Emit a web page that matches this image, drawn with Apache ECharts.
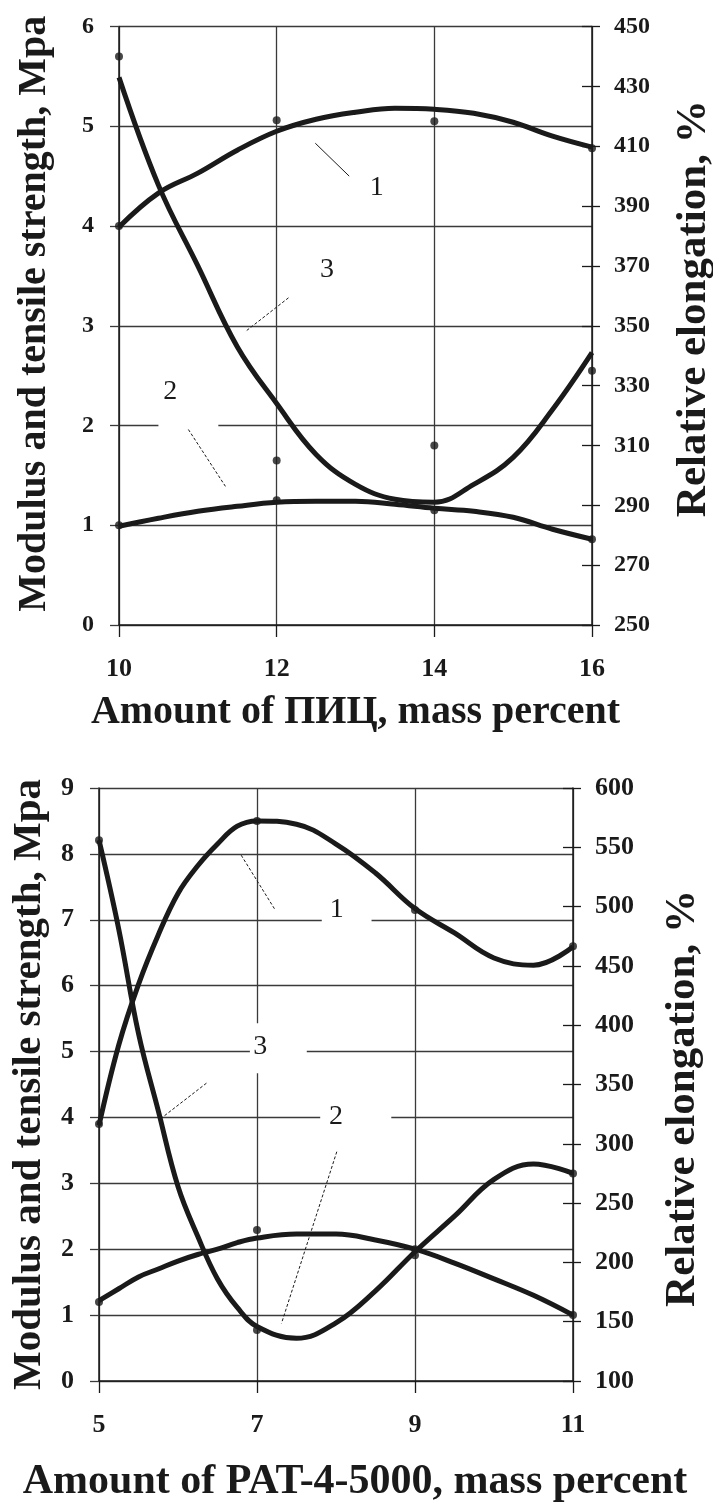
<!DOCTYPE html>
<html>
<head>
<meta charset="utf-8">
<script src="https://cdn.jsdelivr.net/npm/echarts@6/dist/echarts.min.js"></script>
<style>
html,body{margin:0;padding:0;background:#fff;}
#c{width:713px;height:1502px;}
</style>
</head>
<body>
<div id="c"></div>
<script>
// ---------- Top chart (ПИЦ) ----------
const topX = [10, 10.5, 11, 11.5, 12, 12.5, 13, 13.5, 14, 14.5, 15, 15.5, 16];
const topCurve1 = [3.99, 4.33, 4.53, 4.76, 4.95, 5.07, 5.14, 5.18, 5.17, 5.13, 5.04, 4.90, 4.79];   // tensile strength, MPa
const topCurve2 = [0.99, 1.07, 1.14, 1.19, 1.23, 1.24, 1.24, 1.21, 1.17, 1.14, 1.08, 0.96, 0.86];   // modulus, MPa
const topCurve3 = [433, 397, 370, 343, 324, 307, 297, 292, 291, 297, 306, 322, 341];               // elongation, %
const topPtX = [10, 12, 14, 16];
const topPts1 = [4.0, 5.06, 5.05, 4.78];
const topPts2 = [1.0, 1.25, 1.15, 0.86];
const topPts3 = [440, 305, 310, 335];
const topRightTicks = [250, 270, 290, 310, 330, 350, 370, 390, 410, 430, 450];

// ---------- Bottom chart (PAT-4-5000) ----------
const botX = [5, 5.25, 5.5, 5.75, 6, 6.25, 6.5, 6.75, 7, 7.5, 8, 8.5, 9, 9.5, 10, 10.5, 11];
const botCurve1 = [3.88, 5.1, 6.02, 6.77, 7.4, 7.82, 8.15, 8.42, 8.5, 8.45, 8.15, 7.71, 7.17, 6.8, 6.42, 6.31, 6.59];
const botCurve2 = [1.22, 1.4, 1.58, 1.7, 1.82, 1.92, 2.0, 2.1, 2.17, 2.23, 2.23, 2.14, 2.0, 1.79, 1.55, 1.3, 1.0];
const botCurve3 = [556, 481, 393, 328, 264, 222, 186, 162, 146, 136, 149, 176, 209, 239, 270, 283, 275];
const botPtX = [5, 7, 9, 11];
const botPts1 = [3.9, 8.5, 7.15, 6.6];
const botPts2 = [1.2, 2.29, 2.0, 1.0];
const botPts3 = [556, 143, 206, 275];

const FONT = 'Liberation Serif';
const INK = '#1a1a1a';
const GRIDC = '#3a3a3a';

function pairs(xs, ys) { return xs.map((x, i) => [x, ys[i]]); }

function xAxisCfg(gi, min, max, name, nameGap, nfs, pad) {
  return {
    gridIndex: gi, type: 'value', min: min, max: max, interval: 2,
    axisLine: { show: true, onZero: false, lineStyle: { color: INK, width: 1.5 } },
    axisTick: { show: true, inside: false, length: 12, lineStyle: { color: INK, width: 1.3 } },
    splitLine: { show: true, lineStyle: { color: GRIDC, width: 1.3 } },
    axisLabel: { fontFamily: FONT, fontWeight: 'bold', fontSize: 26, color: INK, margin: 31 },
    name: name, nameLocation: 'middle', nameGap: nameGap,
    nameTextStyle: { fontFamily: FONT, fontWeight: 'bold', fontSize: nfs, color: INK, padding: pad }
  };
}
function yLeftCfg(gi, min, max, fs, nameGap, nfs, pad) {
  return {
    gridIndex: gi, type: 'value', min: min, max: max, interval: 1, position: 'left',
    axisLine: { show: true, onZero: false, lineStyle: { color: INK, width: 1.5 } },
    axisTick: { show: true, inside: false, length: 9, lineStyle: { color: GRIDC, width: 1.3 } },
    splitLine: { show: true, lineStyle: { color: GRIDC, width: 1.3 } },
    axisLabel: { fontFamily: FONT, fontWeight: 'bold', fontSize: fs, color: INK, margin: 25 },
    name: 'Modulus and tensile strength, Mpa', nameLocation: 'middle', nameGap: nameGap, nameRotate: 90,
    nameTextStyle: { fontFamily: FONT, fontWeight: 'bold', fontSize: nfs, color: INK, padding: pad }
  };
}
function yRightCfg(gi, min, max, ticks, interval, fs, nameGap, pad) {
  const a = {
    gridIndex: gi, type: 'value', min: min, max: max, position: 'right',
    axisLine: { show: true, onZero: false, lineStyle: { color: INK, width: 1.5 } },
    axisTick: { show: true, inside: false, length: 8, lineStyle: { color: INK, width: 1.3 } },
    splitLine: { show: false },
    axisLabel: { fontFamily: FONT, fontWeight: 'bold', fontSize: fs, color: INK, margin: 22 },
    name: 'Relative elongation, %', nameLocation: 'middle', nameGap: nameGap, nameRotate: 90,
    nameTextStyle: { fontFamily: FONT, fontWeight: 'bold', fontSize: 43, color: INK, padding: pad }
  };
  if (ticks) { a.axisTick.customValues = ticks; a.axisLabel.customValues = ticks; }
  else { a.interval = interval; }
  return a;
}
function yRightInner(gi, min, max, ticks, interval) {
  const a = {
    gridIndex: gi, type: 'value', min: min, max: max, position: 'right',
    axisLine: { show: false }, splitLine: { show: false }, axisLabel: { show: false },
    axisTick: { show: true, inside: true, length: 10, lineStyle: { color: INK, width: 1.3 } }
  };
  if (ticks) { a.axisTick.customValues = ticks; a.axisLabel.customValues = ticks; }
  else { a.interval = interval; }
  return a;
}

function curve(xi, yi, data) {
  return { type: 'line', xAxisIndex: xi, yAxisIndex: yi, data: data, smooth: 0.4, showSymbol: false, symbol: 'none',
    lineStyle: { color: INK, width: 5 }, z: 2, silent: true };
}
function pts(xi, yi, data) {
  return { type: 'scatter', xAxisIndex: xi, yAxisIndex: yi, data: data, symbol: 'circle', symbolSize: 8,
    itemStyle: { color: INK }, z: 4, silent: true };
}
const lblStyle = { show: true, position: 'inside', formatter: '{b}', fontFamily: FONT, fontSize: 28, color: INK };
function leader(a, b, dashed) {
  return [{ coord: a, lineStyle: { type: dashed ? [3, 2] : 'solid', color: INK, width: 1 } }, { coord: b }];
}
function label(name, c) { return { name: name, coord: c }; }

const option = {
  animation: false,
  backgroundColor: '#fff',
  grid: [
    { left: 119, top: 26.5, width: 473, height: 598.5, outerBoundsMode: 'none', containLabel: false },
    { left: 99, top: 788, width: 474, height: 593, outerBoundsMode: 'none', containLabel: false }
  ],
  xAxis: [
    xAxisCfg(0, 10, 16, 'Amount of ПИЦ, mass percent', 68, 40, 0),
    xAxisCfg(1, 5, 11, 'Amount of PAT-4-5000, mass percent', 80, 42, [0, 0, 0, 38])
  ],
  yAxis: [
    yLeftCfg(0, 0, 6, 24, 64, 40, [0, 0, 0, 24]),
    yRightCfg(0, 250, 450, topRightTicks, null, 24, 80, [0, 0, 0, 34]),
    yRightInner(0, 250, 450, topRightTicks, null),
    yLeftCfg(1, 0, 9, 26, 48, 41, 0),
    yRightCfg(1, 100, 600, null, 50, 26, 88, [0, 28, 0, 0]),
    yRightInner(1, 100, 600, null, 50)
  ],
  series: [
    // white boxes behind annotation labels
    { type: 'scatter', xAxisIndex: 0, yAxisIndex: 0, data: [], z: 1, silent: true,
      markArea: { silent: true, itemStyle: { color: '#fff' },
        data: [[{ coord: [10.5, 2.6] }, { coord: [11.26, 1.85] }]] } },
    { type: 'scatter', xAxisIndex: 1, yAxisIndex: 3, data: [], z: 1, silent: true,
      markArea: { silent: true, itemStyle: { color: '#fff' },
        data: [
          [{ coord: [7.82, 7.45] }, { coord: [8.45, 6.75] }],
          [{ coord: [6.91, 5.43] }, { coord: [7.63, 4.67] }],
          [{ coord: [7.8, 4.4] }, { coord: [8.7, 3.6] }]
        ] } },
    curve(0, 0, pairs(topX, topCurve1)),
    curve(0, 0, pairs(topX, topCurve2)),
    curve(0, 1, pairs(topX, topCurve3)),
    pts(0, 0, pairs(topPtX, topPts1)),
    pts(0, 0, pairs(topPtX, topPts2)),
    pts(0, 1, pairs(topPtX, topPts3)),
    curve(1, 3, pairs(botX, botCurve1)),
    curve(1, 3, pairs(botX, botCurve2)),
    curve(1, 4, pairs(botX, botCurve3)),
    pts(1, 3, pairs(botPtX, botPts1)),
    pts(1, 3, pairs(botPtX, botPts2)),
    pts(1, 4, pairs(botPtX, botPts3)),
    // leaders and labels
    { type: 'scatter', xAxisIndex: 0, yAxisIndex: 0, data: [], z: 5, silent: true,
      markLine: { silent: true, symbol: 'none', label: { show: false },
        data: [
          leader([12.49, 4.83], [12.92, 4.50], false),
          leader([12.15, 3.28], [11.6, 2.94], true),
          leader([10.88, 1.96], [11.35, 1.39], true)
        ] },
      markPoint: { silent: true, symbol: 'circle', symbolSize: 1, itemStyle: { color: 'rgba(0,0,0,0)' }, label: lblStyle,
        data: [label('1', [13.27, 4.38]), label('3', [12.64, 3.56]), label('2', [10.65, 2.34])] } },
    { type: 'scatter', xAxisIndex: 1, yAxisIndex: 3, data: [], z: 5, silent: true,
      markLine: { silent: true, symbol: 'none', label: { show: false },
        data: [
          leader([6.80, 7.98], [7.23, 7.15], true),
          leader([6.36, 4.52], [5.79, 3.99], true),
          leader([8.01, 3.48], [7.31, 0.875], true)
        ] },
      markPoint: { silent: true, symbol: 'circle', symbolSize: 1, itemStyle: { color: 'rgba(0,0,0,0)' }, label: lblStyle,
        data: [label('1', [8.01, 7.15]), label('3', [7.04, 5.07]), label('2', [8.0, 4.01])] } }
  ]
};
const chart = echarts.init(document.getElementById('c'), null, { renderer: 'canvas' });
chart.setOption(option);
</script>
</body>
</html>
